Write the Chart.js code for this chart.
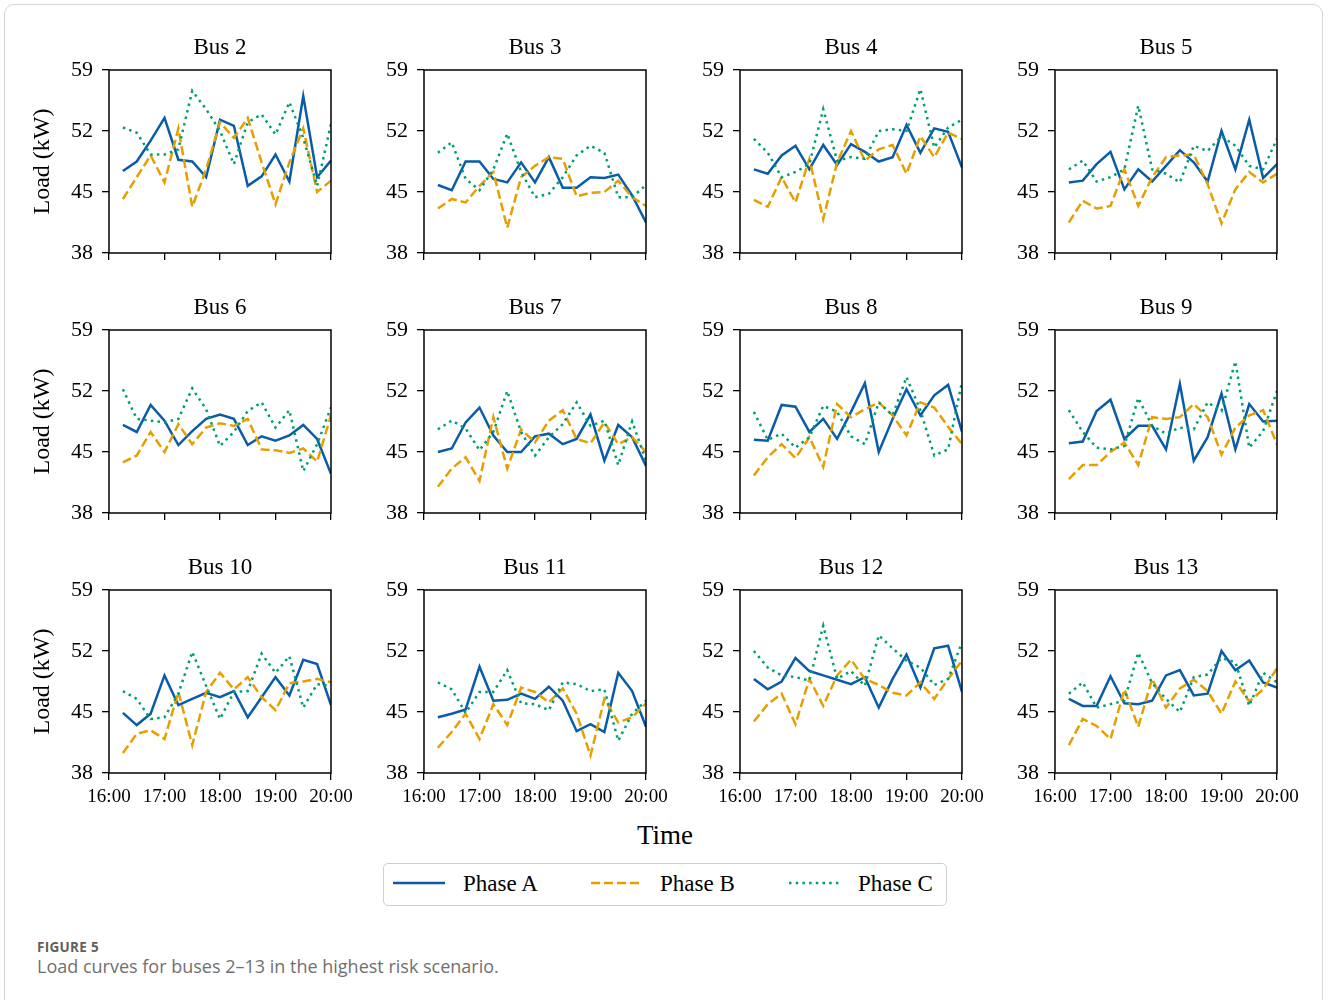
<!DOCTYPE html>
<html>
<head>
<meta charset="utf-8">
<title>Load curves</title>
<script src="https://cdn.jsdelivr.net/npm/chart.js@4.4.1/dist/chart.umd.min.js"></script>
<style>
  html, body { margin: 0; padding: 0; background: #fff; }
  body { width: 1328px; height: 1000px; position: relative; overflow: hidden;
         font-family: 'Liberation Serif', 'Times New Roman', serif; color: #000; }
  .frame { position: absolute; left: 4px; top: 4px; width: 1319px; height: 1100px;
           border: 1px solid #d6d6d6; border-radius: 10px; box-sizing: border-box; }
  .panel { position: absolute; }
  .panel canvas { display: block; }
  #xtitle { position: absolute; left: 0; width: 1330px; top: 817px; text-align: center;
            font-size: 27px; line-height: 36px; }
  #legend { position: absolute; left: 383px; top: 863px; width: 564px; height: 43px;
            border: 1.5px solid #cfcfcf; border-radius: 5px; box-sizing: border-box; }
  #legend .item { position: absolute; top: 0; height: 40px; }
  #legend svg { position: absolute; top: 0; }
  #legend span { position: absolute; top: 6px; font-size: 23px; line-height: 28px; white-space: nowrap; }
  #caption-label { position: absolute; left: 37px; top: 938px; font-family: 'Open Sans', 'Noto Sans', sans-serif;
                   font-size: 13.5px; font-weight: 700; color: #5f5f5f; letter-spacing: 0.3px; }
  #caption-text { position: absolute; left: 37px; top: 954px; font-family: 'Open Sans', 'Noto Sans', sans-serif;
                  font-size: 18px; color: #707070; }
</style>
</head>
<body>
<div class="frame"></div>
<div id="panels"></div>
<div id="xtitle">Time</div>
<div id="legend"></div>
<div id="caption-label">FIGURE 5</div>
<div id="caption-text">Load curves for buses 2–13 in the highest risk scenario.</div>

<script>
// ---- data -------------------------------------------------------------
const times = ['16:15','16:30','16:45','17:00','17:15','17:30','17:45','18:00',
               '18:15','18:30','18:45','19:00','19:15','19:30','19:45','20:00'];
const xTickLabels = ['16:00','17:00','18:00','19:00','20:00'];
const yTicks = [38, 45, 52, 59];
const busNames = ['Bus 2','Bus 3','Bus 4','Bus 5','Bus 6','Bus 7',
                  'Bus 8','Bus 9','Bus 10','Bus 11','Bus 12','Bus 13'];
const phaseNames = ['Phase A', 'Phase B', 'Phase C'];

// load per bus (kW), one row per bus
const phaseA = [
  [47.4, 48.5, 50.9, 53.5, 48.7, 48.5, 46.7, 53.3, 52.6, 45.7, 46.8, 49.3, 46.2, 56.0, 46.7, 48.6],
  [45.8, 45.2, 48.5, 48.5, 46.5, 46.1, 48.4, 46.1, 49.0, 45.5, 45.5, 46.7, 46.6, 47.0, 44.6, 41.5],
  [47.6, 47.1, 49.2, 50.3, 47.6, 50.4, 48.1, 50.5, 49.6, 48.5, 49.0, 52.7, 49.5, 52.3, 51.9, 47.8],
  [46.1, 46.3, 48.2, 49.6, 45.3, 47.6, 46.2, 48.0, 49.8, 48.4, 46.2, 52.0, 47.6, 53.3, 46.6, 48.2],
  [48.1, 47.3, 50.4, 48.6, 45.8, 47.4, 48.8, 49.3, 48.8, 45.8, 46.8, 46.3, 46.9, 48.1, 46.5, 42.5],
  [45.0, 45.4, 48.4, 50.1, 46.9, 45.0, 45.0, 46.8, 47.1, 45.9, 46.5, 49.3, 44.0, 48.1, 46.7, 43.4],
  [46.4, 46.3, 50.4, 50.2, 47.3, 48.8, 46.5, 49.6, 52.9, 45.0, 48.8, 52.2, 49.2, 51.5, 52.7, 47.3],
  [46.0, 46.2, 49.7, 51.0, 46.5, 48.0, 48.0, 45.3, 52.8, 44.0, 46.7, 51.7, 45.3, 50.5, 48.5, 48.6],
  [44.9, 43.5, 44.8, 49.2, 45.8, 46.5, 47.2, 46.7, 47.4, 44.4, 46.7, 49.0, 46.9, 51.0, 50.5, 45.8],
  [44.4, 44.8, 45.3, 50.2, 46.3, 46.4, 47.1, 46.5, 47.9, 46.3, 42.8, 43.6, 42.7, 49.5, 47.4, 43.3],
  [48.8, 47.6, 48.5, 51.2, 49.7, 49.2, 48.7, 48.2, 49.0, 45.5, 48.8, 51.6, 47.8, 52.3, 52.6, 47.3],
  [46.5, 45.7, 45.7, 49.1, 46.0, 45.9, 46.3, 49.2, 49.8, 46.9, 47.1, 52.0, 49.8, 50.9, 48.4, 47.8]
];
const phaseB = [
  [44.2, 46.7, 49.2, 46.1, 52.3, 43.3, 47.6, 53.0, 51.2, 53.5, 48.4, 43.6, 48.4, 52.3, 45.0, 46.3],
  [43.1, 44.2, 43.8, 45.7, 47.3, 40.9, 46.7, 48.0, 49.0, 48.8, 44.5, 44.9, 45.0, 46.3, 44.4, 43.4],
  [44.1, 43.3, 46.7, 43.8, 48.8, 41.9, 48.4, 52.0, 48.6, 49.9, 50.4, 47.1, 51.4, 49.0, 51.8, 51.1],
  [41.5, 44.0, 43.1, 43.4, 47.6, 43.4, 46.7, 49.0, 49.2, 49.3, 45.9, 41.4, 45.3, 47.3, 46.1, 47.1],
  [43.8, 44.6, 47.3, 45.0, 48.2, 45.9, 47.8, 48.3, 48.0, 48.8, 45.3, 45.2, 44.9, 45.4, 43.9, 49.2],
  [41.0, 43.1, 44.4, 41.7, 49.0, 43.1, 47.6, 46.1, 48.6, 49.8, 46.5, 46.0, 48.4, 45.9, 46.7, 45.0],
  [42.3, 44.4, 45.9, 44.3, 46.7, 43.3, 50.5, 49.0, 49.9, 50.7, 49.2, 46.9, 50.7, 50.1, 47.9, 45.9],
  [41.9, 43.5, 43.5, 45.0, 46.1, 43.5, 49.0, 48.8, 49.0, 50.5, 49.0, 44.7, 47.8, 49.2, 49.8, 45.9],
  [40.3, 42.5, 42.9, 41.9, 47.3, 41.2, 47.3, 49.5, 47.6, 49.0, 46.7, 45.2, 48.3, 48.5, 48.8, 48.4],
  [40.9, 42.7, 44.8, 41.9, 45.9, 43.5, 47.8, 47.3, 46.1, 47.7, 44.8, 40.0, 46.5, 43.8, 44.4, 46.0],
  [43.9, 45.9, 47.1, 43.6, 48.8, 45.7, 49.2, 51.0, 48.8, 48.1, 47.2, 46.9, 48.4, 46.5, 48.8, 50.9],
  [41.2, 44.2, 43.4, 41.9, 47.6, 43.3, 48.8, 45.5, 47.7, 48.7, 47.4, 44.8, 48.5, 46.2, 47.6, 50.0]
];
const phaseC = [
  [52.4, 51.8, 49.3, 49.3, 49.9, 56.6, 54.5, 52.0, 48.2, 53.0, 53.9, 51.6, 55.3, 51.2, 45.7, 52.8],
  [49.5, 50.7, 46.5, 45.2, 47.6, 51.7, 47.3, 44.4, 44.8, 46.7, 49.2, 50.3, 49.5, 44.4, 44.4, 45.8],
  [51.1, 49.5, 46.7, 47.3, 48.2, 54.5, 48.6, 49.0, 48.8, 52.0, 52.2, 52.0, 56.8, 50.1, 52.4, 53.3],
  [47.6, 48.6, 46.2, 46.7, 47.6, 54.9, 47.6, 47.1, 46.1, 50.3, 49.7, 51.4, 50.3, 48.0, 47.6, 51.1],
  [52.2, 48.8, 48.6, 48.4, 48.8, 52.3, 49.9, 45.7, 47.3, 49.7, 50.7, 47.8, 49.8, 42.8, 45.9, 50.1],
  [47.6, 48.6, 47.7, 45.2, 47.3, 52.0, 47.3, 44.6, 46.7, 48.2, 50.7, 48.0, 48.6, 43.5, 48.5, 44.0],
  [49.6, 46.4, 47.1, 45.5, 46.7, 50.3, 49.6, 46.8, 45.9, 50.7, 49.2, 53.6, 49.8, 44.6, 45.3, 53.1],
  [49.8, 47.3, 45.5, 45.3, 45.7, 51.2, 48.0, 47.1, 47.8, 47.6, 50.7, 49.7, 55.4, 45.5, 47.4, 52.0],
  [47.4, 46.5, 44.2, 44.4, 47.1, 51.9, 48.0, 44.2, 47.3, 47.4, 51.7, 49.5, 51.4, 45.5, 48.2, 48.0],
  [48.4, 47.6, 44.9, 47.3, 47.3, 49.8, 46.0, 45.9, 45.2, 48.4, 48.2, 47.4, 47.6, 41.7, 44.8, 46.3],
  [52.0, 50.1, 49.2, 49.0, 48.6, 54.9, 48.8, 49.7, 48.0, 53.8, 52.3, 50.9, 50.1, 48.1, 48.8, 53.0],
  [47.1, 48.4, 45.5, 45.9, 46.3, 51.8, 48.3, 46.5, 45.0, 49.0, 49.3, 51.2, 50.7, 45.7, 49.5, 48.4]
];

// ---- styling ----------------------------------------------------------
const SERIF = "'Liberation Serif', 'Times New Roman', serif";
const phaseStyles = [
  { color: '#0a5ca8', dash: [] },
  { color: '#e69f00', dash: [9, 4] },
  { color: '#009e73', dash: [2.5, 4.2] }
];
const phaseRows = [phaseA, phaseB, phaseC];

// panel geometry: each canvas wraps one plot area plus its axes
const plotLefts = [109, 424, 740, 1055];
const plotTops = [70, 330, 590];
const AXIS_W = 100, RIGHT_PAD = 30, TITLE_H = 38, AXIS_H = 40;
const PLOT_W = 222, PLOT_H = 183;

const toHours = t => { const [h, m] = t.split(':').map(Number); return h + m / 60; };
const hours = times.map(toHours);
const xTickHours = xTickLabels.map(toHours);

// closed frame around each plot area
const framePlugin = {
  id: 'frame',
  afterDraw(chart) {
    const { ctx, chartArea: a } = chart;
    ctx.save();
    ctx.strokeStyle = '#000';
    ctx.lineWidth = 1.5;
    ctx.strokeRect(a.left, a.top, a.right - a.left, a.bottom - a.top);
    ctx.restore();
  }
};

const panels = document.getElementById('panels');

busNames.forEach((name, k) => {
  const row = Math.floor(k / 4), col = k % 4;
  const w = AXIS_W + PLOT_W + RIGHT_PAD;
  const h = TITLE_H + PLOT_H + AXIS_H;
  const div = document.createElement('div');
  div.className = 'panel';
  div.style.left = (plotLefts[col] - AXIS_W) + 'px';
  div.style.top = (plotTops[row] - TITLE_H) + 'px';
  div.style.width = w + 'px';
  div.style.height = h + 'px';
  const canvas = document.createElement('canvas');
  canvas.width = w; canvas.height = h;
  canvas.style.width = w + 'px'; canvas.style.height = h + 'px';
  div.appendChild(canvas);
  panels.appendChild(div);

  const showXLabels = row === 2;
  const showYTitle = col === 0;

  const datasets = phaseRows.map((rows, p) => ({
    label: phaseNames[p],
    data: hours.map((x, i) => ({ x, y: rows[k][i] })),
    borderColor: phaseStyles[p].color,
    borderWidth: 2.5,
    borderDash: phaseStyles[p].dash,
    borderCapStyle: 'butt',
    borderJoinStyle: 'miter',
    pointRadius: 0,
    tension: 0,
    fill: false,
    order: 3 - p
  }));

  const tickGrid = { drawOnChartArea: false, drawTicks: true, tickLength: 7, color: '#000', lineWidth: 1.3 };

  new Chart(canvas, {
    type: 'line',
    data: { datasets },
    plugins: [framePlugin],
    options: {
      responsive: false,
      animation: false,
      devicePixelRatio: 1,
      events: [],
      layout: { padding: { left: 0, right: RIGHT_PAD, top: 0, bottom: 0 } },
      plugins: {
        legend: { display: false },
        tooltip: { enabled: false },
        title: {
          display: true, text: name, color: '#000', fullSize: false,
          font: { family: SERIF, size: 23, weight: 'normal' },
          padding: { top: 2, bottom: 8.4 }
        }
      },
      scales: {
        x: {
          type: 'linear', min: 16, max: 20,
          afterBuildTicks: s => { s.ticks = xTickHours.map(v => ({ value: v })); },
          afterFit: s => { s.height = AXIS_H; },
          grid: tickGrid,
          border: { display: false },
          ticks: {
            autoSkip: false, maxRotation: 0, minRotation: 0, padding: 6, color: '#000',
            font: { family: SERIF, size: 19 },
            callback: (v, i) => showXLabels ? xTickLabels[i] : ''
          }
        },
        y: {
          min: 38, max: 59,
          afterBuildTicks: s => { s.ticks = yTicks.map(v => ({ value: v })); },
          afterFit: s => { s.width = AXIS_W; },
          grid: tickGrid,
          border: { display: false },
          ticks: { padding: 9, color: '#000', font: { family: SERIF, size: 22 } },
          title: {
            display: showYTitle, text: 'Load (kW)', color: '#000',
            font: { family: SERIF, size: 24 },
            padding: { top: 19, bottom: 0 }
          }
        }
      }
    }
  });
});

// legend
const legend = document.getElementById('legend');
const legendSample = [9, 207, 405];
const legendText = [79, 276, 474];
phaseNames.forEach((label, p) => {
  const item = document.createElement('div');
  item.className = 'item';
  item.style.left = '0px';
  const ns = 'http://www.w3.org/2000/svg';
  const svg = document.createElementNS(ns, 'svg');
  svg.setAttribute('width', '54'); svg.setAttribute('height', '40');
  svg.style.left = legendSample[p] + 'px';
  const line = document.createElementNS(ns, 'line');
  line.setAttribute('x1', '0'); line.setAttribute('x2', '52');
  line.setAttribute('y1', '19'); line.setAttribute('y2', '19');
  line.setAttribute('stroke', phaseStyles[p].color);
  line.setAttribute('stroke-width', '2.5');
  if (phaseStyles[p].dash.length) line.setAttribute('stroke-dasharray', phaseStyles[p].dash.join(' '));
  svg.appendChild(line);
  const span = document.createElement('span');
  span.textContent = label;
  span.style.left = legendText[p] + 'px';
  item.appendChild(svg);
  item.appendChild(span);
  legend.appendChild(item);
});
</script>
</body>
</html>
